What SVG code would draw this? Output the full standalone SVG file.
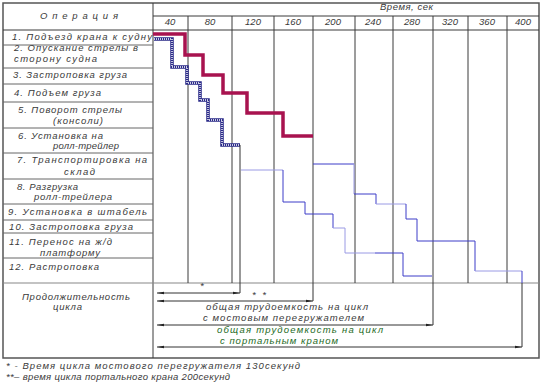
<svg xmlns="http://www.w3.org/2000/svg" width="543" height="384" viewBox="0 0 543 384">
<style>
text{font-family:"Liberation Sans",Arial,sans-serif;font-style:italic;font-size:9.5px;fill:#3a3a3a;}
.grid{stroke:#3a3a3a;stroke-width:1;fill:none;}
.row{stroke:#666;stroke-width:1;}
.frame{fill:none;stroke:#555;stroke-width:1.5;}
.red{fill:none;stroke:#a8124f;stroke-width:3.5;stroke-linejoin:miter;}
.hatA{fill:none;stroke:#2a2a88;stroke-width:3.5;}
.hatB{fill:none;stroke:#fff;stroke-width:1.4;stroke-dasharray:1 1;}
.bl{fill:none;stroke:#3c3cc8;stroke-width:1;}
.lb{fill:none;stroke:#9a9ae4;stroke-width:1;}
.dim{fill:none;stroke:#333;stroke-width:1;marker-start:url(#aL);marker-end:url(#aR);}
.ext{stroke:#333;stroke-width:1;}
.green{fill:#1d6a1d;}
</style>
<defs>
<marker id="aR" markerWidth="8" markerHeight="4" refX="7" refY="2" orient="auto" markerUnits="userSpaceOnUse"><path d="M0,0.8 L7,2 L0,3.2z" fill="#222"/></marker>
<marker id="aL" markerWidth="8" markerHeight="4" refX="0" refY="2" orient="auto" markerUnits="userSpaceOnUse"><path d="M7,0.8 L0,2 L7,3.2z" fill="#222"/></marker>
</defs>
<rect width="543" height="384" fill="#fff"/>

<g id="table">
<rect class="frame" x="3" y="3" width="536" height="355"/>
<line class="grid" x1="153" y1="3" x2="153" y2="358" stroke-width="1.6"/>
<line class="grid" x1="153" y1="16" x2="539" y2="16"/>
<line class="grid" x1="3" y1="30" x2="539" y2="30"/>
<line x1="3" y1="283" x2="539" y2="283" stroke="#888" stroke-width="1.2"/>
<g class="row">
<line x1="3" y1="45" x2="153" y2="45"/>
<line x1="3" y1="68" x2="153" y2="68"/>
<line x1="3" y1="84" x2="153" y2="84"/>
<line x1="3" y1="102" x2="153" y2="102"/>
<line x1="3" y1="128" x2="153" y2="128"/>
<line x1="3" y1="153" x2="153" y2="153"/>
<line x1="3" y1="179" x2="153" y2="179"/>
<line x1="3" y1="204" x2="153" y2="204"/>
<line x1="3" y1="220" x2="153" y2="220"/>
<line x1="3" y1="233" x2="153" y2="233"/>
<line x1="3" y1="258" x2="153" y2="258"/>
</g>
<g class="grid">
<line x1="188" y1="16" x2="188" y2="283"/>
<line x1="232" y1="16" x2="232" y2="283"/>
<line x1="274" y1="16" x2="274" y2="283"/>
<line x1="313" y1="16" x2="313" y2="283"/>
<line x1="355" y1="16" x2="355" y2="283"/>
<line x1="393" y1="16" x2="393" y2="283"/>
<line x1="433" y1="16" x2="433" y2="283"/>
<line x1="468" y1="16" x2="468" y2="283"/>
<line x1="507" y1="16" x2="507" y2="283"/>
</g>
</g>

<g id="header">
<text x="40" y="19" textLength="78" lengthAdjust="spacing">Операция</text>
<text x="380" y="10" textLength="53" lengthAdjust="spacing">Время, сек</text>
<g text-anchor="middle">
<text x="170" y="25">40</text>
<text x="210" y="25">80</text>
<text x="253" y="25">120</text>
<text x="293" y="25">160</text>
<text x="333" y="25">200</text>
<text x="373" y="25">240</text>
<text x="412" y="25">280</text>
<text x="450" y="25">320</text>
<text x="487" y="25">360</text>
<text x="523" y="25">400</text>
</g>
</g>

<g id="operations">
<text x="12" y="40" textLength="140" lengthAdjust="spacing">1. Подъезд крана к судну</text>
<text x="14" y="51" textLength="124" lengthAdjust="spacing">2. Опускание стрелы в</text>
<text x="14" y="62" textLength="83" lengthAdjust="spacing">сторону судна</text>
<text x="13" y="78" textLength="114" lengthAdjust="spacing">3. Застроповка груза</text>
<text x="14" y="96" textLength="87" lengthAdjust="spacing">4. Подъем груза</text>
<text x="18" y="113" textLength="104" lengthAdjust="spacing">5. Поворот стрелы</text>
<text x="53" y="124" textLength="50" lengthAdjust="spacing">(консоли)</text>
<text x="18" y="139" textLength="85" lengthAdjust="spacing">6. Установка на</text>
<text x="53" y="149" textLength="66" lengthAdjust="spacing">ролл-трейлер</text>
<text x="17" y="163" textLength="130" lengthAdjust="spacing">7. Транспортировка на</text>
<text x="64" y="175" textLength="31" lengthAdjust="spacing">склад</text>
<text x="17" y="190" textLength="61" lengthAdjust="spacing">8. Разгрузка</text>
<text x="34" y="200" textLength="78" lengthAdjust="spacing">ролл-трейлера</text>
<text x="8" y="215" textLength="139" lengthAdjust="spacing">9. Установка в штабель</text>
<text x="9" y="230" textLength="124" lengthAdjust="spacing">10. Застроповка груза</text>
<text x="9" y="245" textLength="103" lengthAdjust="spacing">11. Перенос на ж/д</text>
<text x="40" y="256" textLength="60" lengthAdjust="spacing">платформу</text>
<text x="9" y="270" textLength="90" lengthAdjust="spacing">12. Растроповка</text>
<text x="22" y="300" textLength="108" lengthAdjust="spacing">Продолжительность</text>
<text x="53" y="310" textLength="29" lengthAdjust="spacing">цикла</text>
</g>

<g id="connectors">
<polyline class="red" points="153,34 185,34 185,55 203,55 203,75 223,75 223,93 247,93 247,113 283,113 283,136 313,136"/>
<polyline class="hatA" points="154,39 172,39 172,67 187,67 187,83 200,83 200,100 208,100 208,120 222,120 222,145 240,145"/>
<polyline class="hatB" points="154,39 172,39 172,67 187,67 187,83 200,83 200,100 208,100 208,120 222,120 222,145 240,145"/>
<line class="ext" x1="240" y1="145" x2="240" y2="293"/>
<polyline class="lb" points="241,170 283,170"/>
<polyline class="bl" points="283,170 283,202 305,202 305,214 333,214 333,228"/>
<polyline class="lb" points="333,228 345,228 345,253 375,253"/>
<polyline class="bl" points="375,253 403,253 403,276 432,276"/>
<line class="ext" x1="433" y1="283" x2="433" y2="325"/>
<polyline class="bl" points="313,164 354,164"/>
<polyline class="lb" points="354,164 354,194"/>
<polyline class="bl" points="354,194 376,194 376,204"/>
<polyline class="lb" points="376,204 406,204"/>
<polyline class="bl" points="406,204 406,219 417,219 417,241 475,241 475,271"/>
<polyline class="lb" points="475,271 522,271"/>
<polyline class="bl" points="522,271 522,283"/>
<line class="ext" x1="522" y1="283" x2="522" y2="347"/>
<line class="ext" x1="313" y1="283" x2="313" y2="301"/>
<line class="dim" x1="157" y1="293" x2="240" y2="293"/>
<line class="dim" x1="157" y1="301" x2="313" y2="301"/>
<line class="dim" x1="157" y1="325" x2="433" y2="325"/>
<line class="dim" x1="157" y1="347" x2="522" y2="347"/>
</g>

<g id="labels">
<text x="200" y="289" font-size="7">*</text>
<text x="252" y="298" textLength="14" lengthAdjust="spacing">* *</text>
<text x="206" y="310" textLength="162" lengthAdjust="spacing">общая трудоемкость на цикл</text>
<text x="203" y="321" textLength="161" lengthAdjust="spacing">с мостовым перегружателем</text>
<text x="217" y="333" textLength="166" lengthAdjust="spacing" class="green">общая трудоемкость на цикл</text>
<text x="220" y="344" textLength="118" lengthAdjust="spacing" class="green">с портальным краном</text>
</g>

<g id="notes">
<text x="6" y="369" textLength="294" lengthAdjust="spacing">* - Время цикла мостового перегружателя 130секунд</text>
<text x="6" y="380" textLength="224" lengthAdjust="spacing">**– время цикла портального крана 200секунд</text>
</g>
</svg>
